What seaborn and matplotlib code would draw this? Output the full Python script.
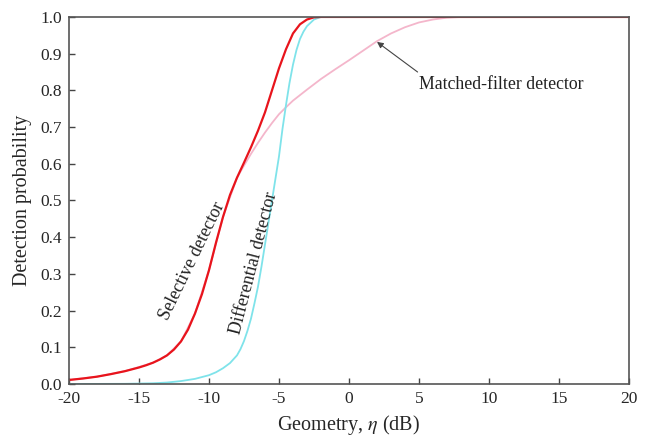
import pandas as pd
import seaborn as sns
import matplotlib.pyplot as plt

# detection probability vs geometry (dB)
sel_x = [-20, -19, -18, -17, -16, -15, -14.5, -14, -13.5, -13, -12.5, -12, -11.5, -11,
         -10.5, -10, -9.5, -9, -8.5, -8, -7.5, -7, -6.5, -6, -5.5, -5, -4.5, -4, -3.5,
         -3, -2.5, -2, 20]
sel_y = [0.011, 0.015, 0.020, 0.027, 0.035, 0.045, 0.051, 0.058, 0.067, 0.078, 0.094,
         0.116, 0.148, 0.192, 0.245, 0.31, 0.385, 0.455, 0.515, 0.562, 0.603, 0.645,
         0.69, 0.74, 0.80, 0.86, 0.912, 0.955, 0.98, 0.993, 0.999, 1.0, 1.0]

diff_x = [-20, -16, -14, -13, -12, -11, -10, -9.5, -9, -8.5, -8, -7.75, -7.5, -7.25, -7,
          -6.75, -6.5, -6.25, -6, -5.75, -5.5, -5.25, -5, -4.75, -4.5, -4.25, -4, -3.75,
          -3.5, -3.25, -3, -2.5, -2, 20]
diff_y = [0.0, 0.0005, 0.002, 0.004, 0.008, 0.014, 0.024, 0.032, 0.043, 0.057, 0.078,
          0.095, 0.117, 0.145, 0.178, 0.22, 0.265, 0.32, 0.38, 0.44, 0.50, 0.56, 0.62,
          0.695, 0.76, 0.82, 0.87, 0.91, 0.94, 0.96, 0.975, 0.993, 1.0, 1.0]

mf_x = [-20, -18, -16, -14, -13, -12, -11, -10, -9, -8, -7.5, -7, -6.5, -6, -5.5, -5,
        -4.5, -4, -3, -2, -1, 0, 1, 2, 3, 4, 5, 6, 7, 8, 20]
mf_y = [0.011, 0.020, 0.035, 0.058, 0.078, 0.116, 0.192, 0.31, 0.455, 0.562, 0.595,
        0.627, 0.657, 0.685, 0.711, 0.735, 0.754, 0.772, 0.802, 0.831, 0.857, 0.882,
        0.908, 0.934, 0.955, 0.972, 0.985, 0.993, 0.998, 1.0, 1.0]

df = pd.concat([
    pd.DataFrame({'eta': mf_x, 'pd': mf_y, 'det': 'Matched-filter detector'}),
    pd.DataFrame({'eta': diff_x, 'pd': diff_y, 'det': 'Differential detector'}),
    pd.DataFrame({'eta': sel_x, 'pd': sel_y, 'det': 'Selective detector'}),
])
palette = {'Matched-filter detector': '#f4b6cb',
           'Differential detector': '#7fe3ea',
           'Selective detector': '#e8141c'}

sns.set_style('ticks')
plt.rcParams['font.family'] = ['Liberation Serif', 'DejaVu Serif']
plt.rcParams['mathtext.fontset'] = 'stix'
plt.rcParams['axes.unicode_minus'] = False

fig = plt.figure(figsize=(6.52, 4.46), dpi=100)
ax = fig.add_axes([0.1058, 0.139, 0.8589, 0.823])

for name in palette:
    sub = df[df['det'] == name]
    lw = 1.6 if name == 'Selective detector' else 1.3
    sns.lineplot(data=sub, x='eta', y='pd', color=palette[name], lw=lw, ax=ax,
                 sort=False, legend=False)

ax.set_xlim(-20, 20)
ax.set_ylim(0, 1.0)
ax.set_xticks(range(-20, 21, 5))
ax.set_yticks([i / 10 for i in range(11)])
ax.set_yticklabels([f'{i / 10:.1f}' for i in range(11)])
ax.tick_params(direction='in', length=4, width=1, labelsize=12.5, color='#444444', pad=5)
for s in ax.spines.values():
    s.set_color('#555555')
    s.set_linewidth(1.2)

ax.set_xlabel(r'Geometry, $\eta$ (dB)', fontsize=14.5, labelpad=4)
ax.set_ylabel('Detection probability', fontsize=14.5, labelpad=6)

ax.text(-11.2, 0.335, 'Selective detector', rotation=64, fontsize=13,
        ha='center', va='center', rotation_mode='anchor', color='#222222')
ax.text(-6.8, 0.33, 'Differential detector', rotation=75.5, fontsize=13,
        ha='center', va='center', rotation_mode='anchor', color='#222222')
ax.text(10.9, 0.815, 'Matched-filter detector', fontsize=12.8,
        ha='center', va='center', color='#222222')
ax.annotate('', xy=(2.0, 0.932), xytext=(4.9, 0.85),
            arrowprops=dict(arrowstyle='-|>', color='#444444', lw=0.8,
                            mutation_scale=9, shrinkA=0, shrinkB=0))

fig.savefig('out.png', dpi=100)
